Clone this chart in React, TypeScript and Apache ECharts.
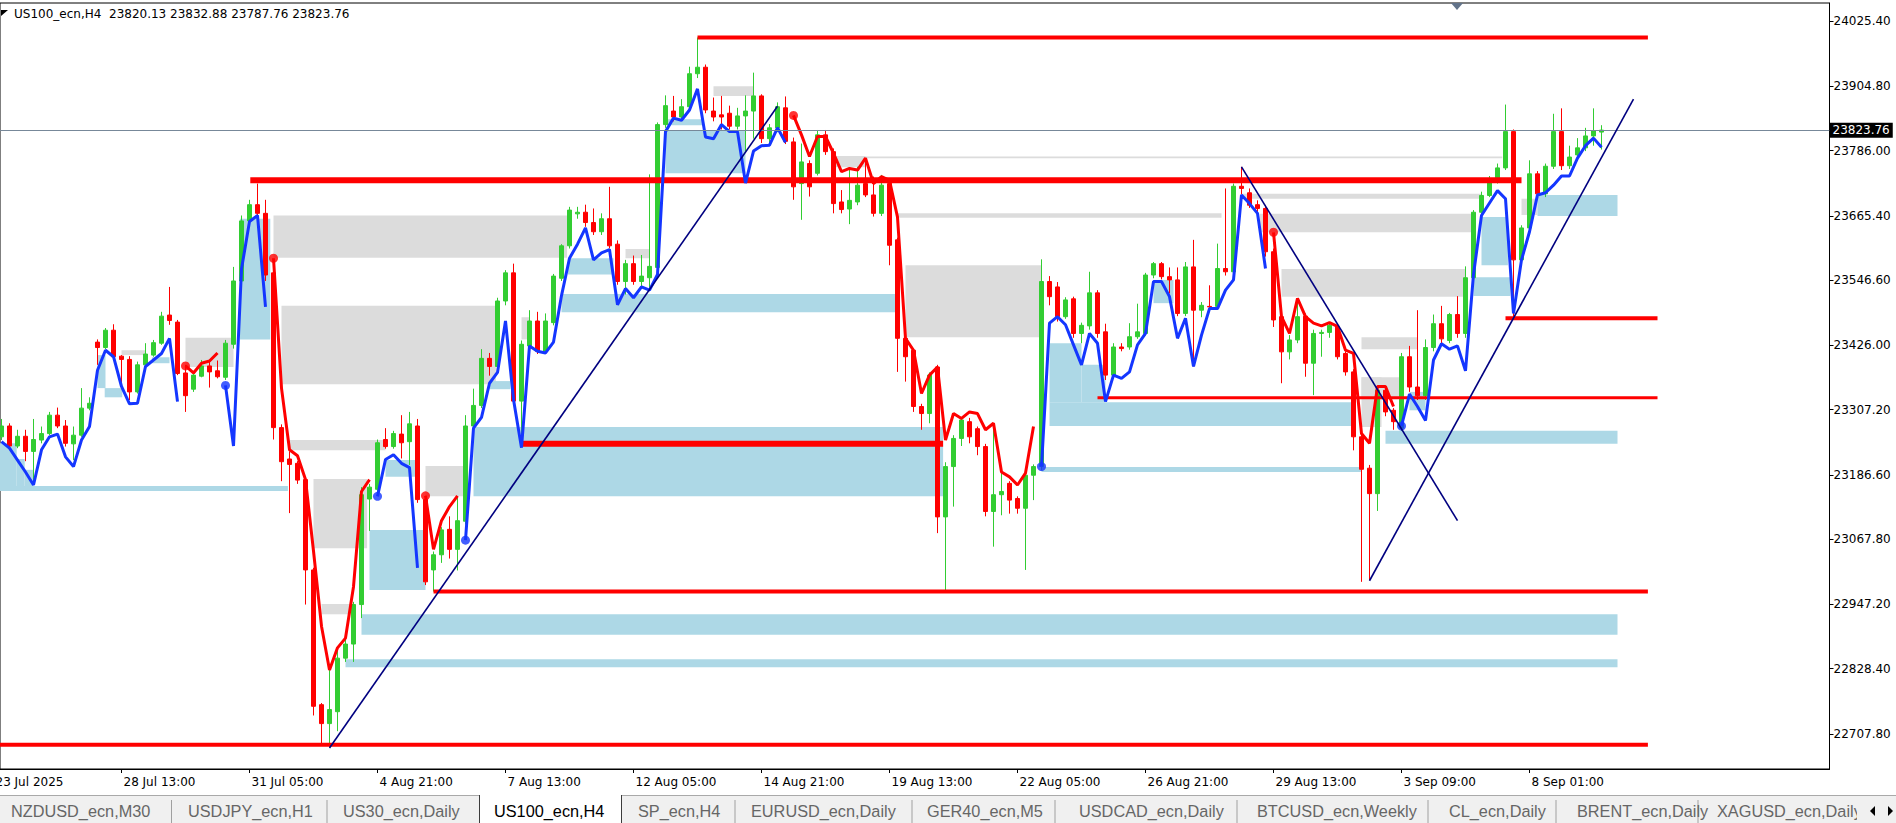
import React, { useEffect, useRef } from 'react';
import * as echarts from 'echarts';

// ---------- header ----------
const symbolName = 'US100_ecn,H4';
const headerQuote = ['23820.13', '23832.88', '23787.76', '23823.76'];
const lastPrice = 23823.76;

// ---------- axes ----------
const timeTickIdx = [-1, 15, 31, 47, 63, 79, 95, 111, 127, 143, 159, 175, 191];
const timeTickLabels = ['23 Jul 2025', '28 Jul 13:00', '31 Jul 05:00', '4 Aug 21:00', '7 Aug 13:00', '12 Aug 05:00', '14 Aug 21:00', '19 Aug 13:00', '22 Aug 05:00', '26 Aug 21:00', '29 Aug 13:00', '3 Sep 09:00', '8 Sep 01:00'];
const priceTicks = [22707.8, 22828.4, 22947.2, 23067.8, 23186.6, 23307.2, 23426.0, 23546.6, 23665.4, 23786.0, 23904.8, 24025.4];

// ---------- H4 candles [open, close, low, high] ----------
const ohlc = [
[23257,23277,23251,23290],[23277,23240,23233,23282],[23240,23258,23236,23270],[23258,23230,23212,23270],[23230,23252,23177,23290],
[23251,23263,23245,23276],[23263,23297,23260,23303],[23297,23277,23273,23311],[23277,23245,23239,23288],[23244,23260,23214,23276],
[23260,23310,23257,23347],[23310,23319,23306,23330],[23432,23422,23390,23437],[23422,23454,23419,23458],[23454,23405,23402,23465],
[23406,23400,23350,23408],[23400,23340,23325,23406],[23340,23390,23337,23396],[23390,23410,23387,23430],[23408,23431,23405,23436],
[23430,23480,23427,23488],[23482,23472,23464,23534],[23469,23374,23371,23473],[23375,23333,23303,23390],[23345,23371,23340,23374],
[23369,23388,23367,23399],[23388,23377,23348,23399],[23379,23368,23365,23398],[23367,23430,23362,23436],[23428,23545,23420,23571],
[23545,23656,23540,23666],[23656,23686,23650,23695],[23686,23670,23660,23725],[23670,23556,23545,23695],[23560,23274,23252,23580],
[23274,23211,23175,23280],[23216,23206,23116,23230],[23208,23177,23170,23212],[23178,23011,22947,23182],[23011,22759,22742,23015],
[22762,22727,22690,22765],[22727,22753,22684,22826],[22749,22848,22713,22870],[22848,22874,22841,22885],[22874,22947,22841,22952],
[22947,23150,22922,23164],[23142,23164,23083,23170],[23160,23246,23150,23252],[23252,23239,23235,23273],[23239,23263,23235,23268],
[23262,23246,23217,23297],[23248,23281,23205,23303],[23277,23141,23135,23290],[23141,22989,22983,23148],[23011,23039,22971,23045],
[23039,23085,23024,23090],[23086,23049,23032,23110],[23049,23102,23010,23146],[23101,23277,23095,23297],[23277,23315,23270,23346],
[23315,23402,23310,23419],[23402,23387,23370,23412],[23387,23508,23380,23514],[23508,23560,23500,23565],[23560,23323,23315,23577],
[23323,23428,23244,23435],[23425,23471,23420,23491],[23471,23415,23410,23488],[23415,23471,23410,23485],[23468,23554,23463,23558],
[23550,23610,23545,23613],[23610,23676,23605,23682],[23669,23672,23660,23682],[23672,23653,23645,23686],[23653,23636,23630,23679],
[23636,23660,23630,23670],[23660,23610,23605,23719],[23613,23544,23538,23620],[23544,23577,23520,23584],[23577,23544,23538,23592],
[23544,23554,23535,23593],[23551,23572,23530,23742],[23570,23834,23565,23838],[23834,23869,23828,23888],[23859,23848,23840,23887],
[23848,23867,23845,23881],[23867,23928,23860,23941],[23928,23940,23920,23995],[23940,23861,23855,23945],[23859,23848,23840,23884],
[23852,23848,23825,23887],[23855,23831,23825,23869],[23831,23850,23825,23865],[23850,23859,23785,23888],[23859,23887,23808,23930],
[23887,23808,23800,23890],[23808,23828,23800,23835],[23828,23867,23820,23875],[23865,23803,23798,23886],[23802,23719,23695,23810],
[23725,23765,23658,23799],[23762,23719,23701,23768],[23744,23815,23740,23824],[23815,23784,23778,23824],[23784,23688,23670,23790],
[23691,23677,23670,23713],[23678,23694,23650,23750],[23691,23722,23685,23756],[23725,23704,23700,23771],[23704,23670,23664,23738],
[23670,23722,23665,23741],[23725,23611,23574,23730],[23621,23439,23377,23625],[23439,23405,23359,23445],[23417,23313,23303,23420],
[23313,23300,23270,23318],[23300,23371,23282,23376],[23386,23109,23079,23390],[23109,23202,22970,23210],[23202,23254,23128,23260],
[23254,23288,23240,23293],[23285,23257,23245,23292],[23272,23239,23223,23276],[23239,23119,23110,23244],[23119,23150,23054,23282],
[23150,23156,23112,23190],[23171,23140,23115,23175],[23143,23125,23115,23147],[23125,23186,23011,23190],[23186,23202,23140,23206],
[23202,23544,23195,23585],[23544,23516,23500,23554],[23534,23479,23470,23543],[23479,23510,23475,23515],[23512,23448,23440,23516],
[23448,23463,23430,23468],[23462,23523,23455,23562],[23523,23448,23440,23528],[23451,23371,23362,23466],[23371,23423,23365,23430],
[23423,23420,23415,23430],[23423,23442,23418,23467],[23442,23451,23438,23503],[23448,23556,23444,23560],[23556,23577,23550,23580],
[23577,23553,23548,23580],[23553,23547,23522,23570],[23547,23485,23480,23570],[23485,23571,23480,23580],[23571,23491,23387,23621],
[23491,23500,23478,23506],[23498,23497,23490,23537],[23498,23568,23492,23614],[23568,23562,23555,23716],[23562,23720,23555,23725],
[23720,23716,23705,23756],[23708,23685,23680,23716],[23686,23679,23672,23694],[23679,23599,23590,23685],[23599,23473,23460,23605],
[23479,23414,23356,23485],[23414,23436,23400,23445],[23436,23479,23430,23513],[23480,23393,23368,23485],[23393,23448,23334,23455],
[23448,23450,23405,23455],[23450,23463,23440,23468],[23460,23405,23400,23466],[23411,23377,23370,23415],[23377,23257,23232,23382],
[23257,23197,22989,23262],[23199,23152,22992,23205],[23152,23343,23120,23350],[23343,23303,23295,23350],[23306,23285,23270,23310],
[23273,23405,23268,23412],[23405,23349,23340,23425],[23349,23333,23325,23491],[23333,23422,23325,23437],[23422,23466,23415,23483],
[23466,23438,23430,23499],[23435,23483,23430,23486],[23483,23448,23440,23517],[23448,23551,23440,23572],[23551,23672,23545,23676],
[23672,23703,23665,23710],[23703,23729,23700,23739],[23729,23754,23725,23762],[23754,23821,23750,23871],[23821,23584,23476,23825],
[23584,23643,23580,23648],[23643,23743,23640,23768],[23743,23706,23700,23748],[23706,23757,23700,23762],[23757,23821,23752,23854],
[23821,23758,23750,23864],[23758,23774,23752,23795],[23778,23791,23770,23809],[23791,23813,23785,23828],[23813,23823,23795,23864],
[23820.13,23823.76,23787.76,23832.88],
];

// ---------- trend indicator (bar index, price) ----------
const upSegments = [
  [[0,23248],[1,23236],[2,23214],[3,23192],[4,23168],[5,23233],[6,23257],[7,23262],[8,23220],[9,23202],[10,23251],[11,23276],[12,23380],[13,23417],[14,23405],[15,23350],[16,23318],[17,23319],[18,23387],[19,23399],[20,23411],[21,23439],[22,23322]],
  [[28,23352],[29,23240],[30,23567],[31,23655],[32,23666],[33,23497]],
  [[47,23147],[48,23215],[49,23224],[50,23208],[51,23200],[52,23015]],
  [[58,23066],[59,23273],[60,23293],[61,23356],[62,23376],[63,23471],[64,23326],[65,23237],[66,23425],[67,23415],[68,23412],[69,23432],[70,23518],[71,23587],[72,23613],[73,23643],[74,23584],[75,23597],[76,23603],[77,23501],[78,23531],[79,23514],[80,23534],[81,23528],[82,23557],[83,23821],[84,23846],[85,23842],[86,23861],[87,23900],[88,23811],[89,23808],[90,23834],[91,23821],[92,23821],[93,23726],[94,23785],[95,23795],[96,23796],[97,23828],[98,23801]],
  [[130,23202],[131,23467],[132,23479],[133,23464],[134,23427],[135,23390],[136,23448],[137,23430],[138,23322],[139,23371],[140,23365],[141,23377],[142,23427],[143,23448],[144,23544],[145,23544],[146,23516],[147,23439],[148,23476],[149,23387],[150,23445],[151,23494],[152,23494],[153,23528],[154,23547],[155,23704],[156,23688],[157,23670],[158,23568]],
  [[175,23277],[176,23336],[177,23313],[178,23287],[179,23399],[180,23429],[181,23419],[182,23425],[183,23379],[184,23557],[185,23666],[186,23689],[187,23712],[188,23697],[189,23485],[190,23584],[191,23636],[192,23704],[193,23708],[194,23722],[195,23739],[196,23739],[197,23772],[198,23795],[199,23809],[200,23792]],
];
const downSegments = [
  [[23,23388],[24,23375],[25,23393],[26,23397],[27,23412]],
  [[34,23587],[35,23347],[36,23233],[37,23222],[38,23178],[39,23046],[40,22907],[41,22826],[42,22867],[43,22885],[44,22980],[45,23156],[46,23178]],
  [[53,23148],[54,23049],[55,23102],[56,23128],[57,23148]],
  [[99,23851],[100,23815],[101,23775],[102,23812],[103,23812],[104,23781],[105,23747],[106,23753],[107,23750],[108,23772],[109,23725],[110,23738],[111,23731],[112,23663],[113,23439],[114,23417],[115,23337],[116,23371],[117,23386],[118,23251],[119,23300],[120,23291],[121,23303],[122,23300],[123,23270],[124,23282],[125,23192],[126,23183],[127,23168],[128,23190],[129,23276]],
  [[159,23635],[160,23479],[161,23448],[162,23513],[163,23479],[164,23467],[165,23462],[166,23468],[167,23461],[168,23417],[169,23411],[170,23263],[171,23245],[172,23350],[173,23350],[174,23313]],
];
const upDots = [[28,23352],[47,23147],[58,23066],[130,23202],[175,23277]];
const downDots = [[23,23388],[34,23587],[53,23148],[99,23851],[159,23635]];

// ---------- zones [fromBar, toBar, top, bottom] ----------
const supplyZones = [
  [15,18,23417,23408],[23,29,23440,23386],[35,61.8,23499,23354],[34,70.7,23666,23588],[36,48,23251,23232],
  [39,45.7,23179,23051],[40,43.6,22948,22929],[53,57.7,23203,23147],[65,66,23478,23437],[78,81,23604,23587],
  [89,94,23905,23887],[104,108,23776,23755],[105.6,187.6,23775,23772],[112,152.5,23670,23662],[113,130,23574,23441],
  [155,185,23706,23697],[157.3,184.2,23669,23635],[160,183,23567,23516],[170,177,23441,23419],[170,172.5,23367,23275],
  [170,174.7,23367,23330],[190,192,23697,23667],
];
const demandZones = [
  [-0.2,35.8,23166,23157],[-0.2,1.9,23245,23166],[1.9,2.9,23216,23166],[2.9,4,23196,23166],[12,13,23408,23347],
  [12.9,15.1,23347,23330],[18.8,21,23404,23393],[29.8,33.6,23660,23437],[48,52.3,23214,23183],[46,53,23085,22974],
  [45,202,22929,22891],[43,202,22846,22831],[59,117.7,23275,23147],[70,112,23521,23487],[70.8,76.5,23587,23557],
  [61,63.6,23360,23345],[83,93,23822,23744],[83,87.8,23844,23833],[131,169,23321,23277],[131,135,23430,23321],
  [135,138,23390,23321],[130,170,23201,23192],[144,146.5,23547,23504],[173,202,23268,23244],[184,188.6,23552,23517],
  [185,188.3,23663,23574],[192,202,23704,23665],[176,178,23340,23306],
];

// ---------- horizontal levels [fromBar, toBar, price] ----------
const majorLevels = [[31.1,190,23731],[65,117.7,23244]];
const minorLevels = [[87,205.8,23995],[188,207,23476],[54,205.8,22971],[-0.2,205.8,22688]];
const thinLevels = [[137,207,23329]];

// ---------- trend lines ----------
const trendLines = [
  [[41,22682],[97,23868]],
  [[155,23756],[182,23102]],
  [[171,22991],[204,23881]],
];

// ---------- terminal tabs ----------
const tabs = ['NZDUSD_ecn,M30', 'USDJPY_ecn,H1', 'US30_ecn,Daily', 'US100_ecn,H4', 'SP_ecn,H4', 'EURUSD_ecn,Daily', 'GER40_ecn,M5', 'USDCAD_ecn,Daily', 'BTCUSD_ecn,Weekly', 'CL_ecn,Daily', 'BRENT_ecn,Daily', 'XAGUSD_ecn,Daily'];
const activeTab = 3;

const tabTextX = [11, 188, 343, 494, 638, 751, 927, 1079, 1257, 1449, 1577, 1717];
const tabSeparators = [171.5, 327, 735, 912, 1055, 1237, 1428, 1556, 1698];

const FONT = 'DejaVu Sans';
const X_MIN = -0.1875;
const X_MAX = 228.5;

function zoneRender(fill: string) {
  return (params: any, api: any) => {
    const a = api.coord([api.value(0), api.value(2)]);
    const b = api.coord([api.value(1), api.value(3)]);
    return {
      type: 'rect',
      shape: { x: a[0], y: a[1], width: b[0] - a[0], height: Math.max(1, b[1] - a[1]) },
      style: { fill },
    };
  };
}
function levelRender(w: number) {
  return (params: any, api: any) => {
    const a = api.coord([api.value(0), api.value(2)]);
    const b = api.coord([api.value(1), api.value(2)]);
    return {
      type: 'rect',
      shape: { x: a[0], y: a[1] - w / 2, width: b[0] - a[0], height: w },
      style: { fill: '#ff0000' },
    };
  };
}

function buildOption() {
  const series: any[] = [];
  series.push({
    type: 'custom', name: 'supply', z: 1, silent: true,
    renderItem: zoneRender('#dcdcdc'),
    encode: { x: [0, 1], y: [2, 3] },
    data: supplyZones,
  });
  series.push({
    type: 'custom', name: 'demand', z: 1, silent: true,
    renderItem: zoneRender('#add8e6'),
    encode: { x: [0, 1], y: [2, 3] },
    data: demandZones,
  });
  series.push({
    type: 'candlestick', name: 'US100', z: 2, silent: true,
    barWidth: 4,
    encode: { x: 0, y: [1, 2, 3, 4] },
    data: ohlc.map((c, i) => [i, c[0], c[1], c[2], c[3]]),
    itemStyle: { color: '#32cd32', color0: '#ff0000', borderColor: '#32cd32', borderColor0: '#ff0000', borderWidth: 1 },
    markLine: {
      symbol: 'none', silent: true, animation: false,
      lineStyle: { color: '#778899', width: 1, type: 'solid' },
      label: {
        position: 'end', distance: 0, formatter: lastPrice.toFixed(2),
        color: '#ffffff', backgroundColor: '#000000', padding: [2, 3, 1, 3],
        fontSize: 12, fontFamily: FONT,
      },
      data: [{ yAxis: lastPrice }],
    },
  });
  const levelGroups: [number[][], number][] = [[majorLevels, 6], [minorLevels, 4], [thinLevels, 3]];
  levelGroups.forEach(([d, w]) => {
    series.push({
      type: 'custom', z: 3, silent: true,
      renderItem: levelRender(w),
      encode: { x: [0, 1], y: 2 },
      data: d,
    });
  });
  upSegments.forEach((seg) => {
    series.push({ type: 'line', z: 4, silent: true, symbol: 'none', data: seg, lineStyle: { color: '#1436ff', width: 3 } });
  });
  downSegments.forEach((seg) => {
    series.push({ type: 'line', z: 4, silent: true, symbol: 'none', data: seg, lineStyle: { color: '#ff0000', width: 3 } });
  });
  series.push({ type: 'scatter', z: 5, silent: true, symbolSize: 9, data: upDots, itemStyle: { color: '#1436ff' } });
  series.push({ type: 'scatter', z: 5, silent: true, symbolSize: 9, data: downDots, itemStyle: { color: '#ff0000' } });
  trendLines.forEach((t) => {
    series.push({ type: 'line', z: 6, silent: true, symbol: 'none', data: t, lineStyle: { color: '#000080', width: 1.6 } });
  });

  const graphic: any[] = [];
  graphic.push({ type: 'polygon', shape: { points: [[1, 10], [8, 10], [1, 16]] }, style: { fill: '#000' } });
  graphic.push({
    type: 'text', x: 14, y: 14,
    style: { text: `${symbolName}  ${headerQuote.join(' ')}`, fill: '#000', fontSize: 12, fontFamily: FONT, verticalAlign: 'middle', align: 'left' },
  });
  graphic.push({ type: 'polygon', shape: { points: [[1451, 3], [1463, 3], [1457, 10]] }, style: { fill: '#62738a' } });
  // first (partly hidden) time label, tick of a bar left of the visible window
  graphic.push({
    type: 'text', x: 1.5 + 8 * timeTickIdx[0] + 2, y: 776,
    style: { text: timeTickLabels[0], fill: '#000', fontSize: 12, fontFamily: FONT, verticalAlign: 'top', align: 'left' },
  });
  // tab bar
  graphic.push({ type: 'rect', shape: { x: 0, y: 795, width: 1896, height: 28 }, style: { fill: '#f0f0f0' } });
  graphic.push({ type: 'line', shape: { x1: 0, y1: 795.5, x2: 1896, y2: 795.5 }, style: { stroke: '#a9a9a9', lineWidth: 1 } });
  tabSeparators.forEach((x) => {
    graphic.push({ type: 'line', shape: { x1: x, y1: 800, x2: x, y2: 823 }, style: { stroke: '#a0a0a0', lineWidth: 1 } });
  });
  graphic.push({ type: 'rect', shape: { x: 479, y: 795, width: 143, height: 28 }, style: { fill: '#ffffff' } });
  graphic.push({ type: 'line', shape: { x1: 479.5, y1: 795, x2: 479.5, y2: 823 }, style: { stroke: '#3c3c3c', lineWidth: 1 } });
  graphic.push({ type: 'line', shape: { x1: 621.5, y1: 795, x2: 621.5, y2: 823 }, style: { stroke: '#3c3c3c', lineWidth: 1 } });
  tabs.forEach((t, k) => {
    graphic.push({
      type: 'text', x: tabTextX[k], y: 811,
      style: { text: t, fill: k === activeTab ? '#000000' : '#666666', fontSize: 16.3, fontFamily: 'Liberation Sans', verticalAlign: 'middle', align: 'left' },
    });
  });
  graphic.push({ type: 'rect', shape: { x: 1857, y: 796, width: 39, height: 27 }, style: { fill: '#f0f0f0' } });
  graphic.push({ type: 'polygon', shape: { points: [[1870, 811], [1875, 806], [1875, 816]] }, style: { fill: '#000' } });
  graphic.push({ type: 'polygon', shape: { points: [[1888, 806], [1893, 811], [1888, 816]] }, style: { fill: '#000' } });

  const visibleTicks = timeTickIdx.filter((v) => v >= X_MIN);

  return {
    animation: false,
    backgroundColor: '#ffffff',
    grid: { left: 0, top: 3, right: 66.5, bottom: 54, show: true, borderColor: '#000', borderWidth: 1, backgroundColor: 'transparent' },
    xAxis: {
      type: 'value', min: X_MIN, max: X_MAX,
      splitLine: { show: false },
      axisLine: { show: true, onZero: false, lineStyle: { color: '#000', width: 1 } },
      axisTick: { show: true, length: 4, customValues: visibleTicks, lineStyle: { color: '#000' } },
      axisLabel: {
        customValues: visibleTicks,
        formatter: (v: number) => timeTickLabels[timeTickIdx.indexOf(Math.round(v))] ?? '',
        align: 'left', margin: 7, color: '#000', fontSize: 12, fontFamily: FONT, padding: [0, 0, 0, 2],
      },
    },
    yAxis: {
      type: 'value', position: 'right', min: 22643.1, max: 24058.7,
      splitLine: { show: false },
      axisLine: { show: true, onZero: false, lineStyle: { color: '#000', width: 1 } },
      axisTick: { show: true, length: 4, customValues: priceTicks, lineStyle: { color: '#000' } },
      axisLabel: {
        customValues: priceTicks,
        formatter: (v: number) => v.toFixed(2),
        margin: 4, color: '#000', fontSize: 12, fontFamily: FONT,
      },
    },
    graphic,
    series,
  };
}

export default function App() {
  const ref = useRef<HTMLDivElement>(null);
  useEffect(() => {
    if (!ref.current) return;
    const chart = echarts.init(ref.current, undefined, { renderer: 'svg' });
    chart.setOption(buildOption() as any);
    return () => chart.dispose();
  }, []);
  return <div ref={ref} style={{ position: 'fixed', left: 0, top: 0, width: 1896, height: 823, background: '#fff' }} />;
}
